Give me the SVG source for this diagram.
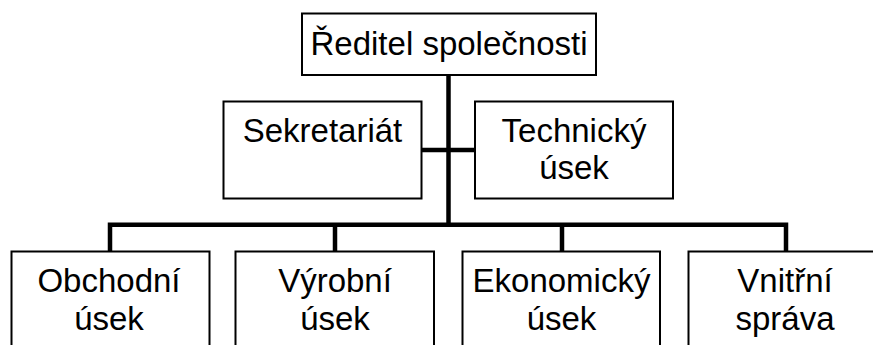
<svg xmlns="http://www.w3.org/2000/svg" width="873" height="345" viewBox="0 0 873 345">
  <style>
    .box { fill: #ffffff; stroke: #000000; stroke-width: 2; }
    .lbl { font-family: "Liberation Sans", Arial, sans-serif; font-size: 33px; fill: #000000; text-anchor: middle; }
    .link { fill: none; stroke: #000000; stroke-width: 4.5; stroke-linecap: butt; }
  </style>
  <rect width="873" height="345" fill="#ffffff"/>

  <!-- connectors -->
  <g id="connectors">
    <line class="link" x1="448.5" y1="74" x2="448.5" y2="227"/>
    <line class="link" x1="421" y1="150" x2="476" y2="150"/>
    <polyline class="link" points="110,252 110,224.7 786,224.7 786,252"/>
    <line class="link" x1="335" y1="224.7" x2="335" y2="252"/>
    <line class="link" x1="562" y1="224.7" x2="562" y2="252"/>
  </g>

  <!-- top -->
  <g id="reditel">
    <rect class="box" x="302" y="13.5" width="294" height="61.5"/>
    <text class="lbl" x="449" y="54.5">Ředitel společnosti</text>
  </g>

  <!-- staff level -->
  <g id="sekretariat">
    <rect class="box" x="223.5" y="101.5" width="198" height="97"/>
    <text class="lbl" x="322.5" y="141.5">Sekretariát</text>
  </g>
  <g id="technicky-usek">
    <rect class="box" x="475" y="101.5" width="198" height="97"/>
    <text class="lbl" x="574" y="141.5">Technický</text>
    <text class="lbl" x="574" y="178.5">úsek</text>
  </g>

  <!-- departments -->
  <g id="obchodni-usek">
    <rect class="box" x="11.5" y="251.5" width="198" height="120"/>
    <text class="lbl" x="109" y="291.5">Obchodní</text>
    <text class="lbl" x="109" y="329.5">úsek</text>
  </g>
  <g id="vyrobni-usek">
    <rect class="box" x="235.5" y="251.5" width="198.5" height="120"/>
    <text class="lbl" x="335" y="291.5">Výrobní</text>
    <text class="lbl" x="335" y="329.5">úsek</text>
  </g>
  <g id="ekonomicky-usek">
    <rect class="box" x="462.5" y="251.5" width="197.5" height="120"/>
    <text class="lbl" x="561.5" y="291.5">Ekonomický</text>
    <text class="lbl" x="561.5" y="329.5">úsek</text>
  </g>
  <g id="vnitrni-sprava">
    <rect class="box" x="688.5" y="251.5" width="198" height="120"/>
    <text class="lbl" x="785" y="291.5">Vnitřní</text>
    <text class="lbl" x="785" y="329.5">správa</text>
  </g>
</svg>
